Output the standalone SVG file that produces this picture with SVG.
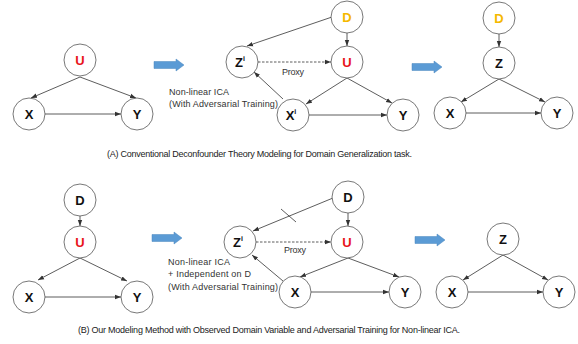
<svg xmlns="http://www.w3.org/2000/svg" width="578" height="344" viewBox="0 0 578 344">
<style>
.node circle{fill:#fff;stroke:#555;stroke-width:0.8}
.lbl{font-family:"Liberation Sans",Arial,sans-serif;font-weight:bold;font-size:13px;text-anchor:middle;fill:#111}
.sup{font-size:7px}
.red{fill:#e8141b}
.org{fill:#f5b800}
.edge{stroke:#333;stroke-width:0.8;fill:none;marker-end:url(#ah)}
.dash{stroke-dasharray:2.5,1.5}
.txt{font-family:"Liberation Sans",Arial,sans-serif;font-size:9px;fill:#333}
.cap{font-family:"Liberation Sans",Arial,sans-serif;font-size:9px;fill:#222}
.big{fill:#5b9bd5;stroke:#4a86bf;stroke-width:0.5}
</style>
<defs>
<marker id="ah" markerUnits="userSpaceOnUse" markerWidth="6" markerHeight="6" viewBox="0 0 6 6" refX="6" refY="3" orient="auto">
<path d="M0,0.8 L6,3 L0,5.2 z" fill="#333"/>
</marker>
</defs>
<rect width="578" height="344" fill="#fff"/>

<g id="connectors">
<!-- panel 1 -->
<line class="edge" x1="80" y1="77" x2="31" y2="98"/>
<line class="edge" x1="80" y1="77" x2="136" y2="98"/>
<line class="edge" x1="45" y1="114" x2="121" y2="114"/>
<!-- panel 2 -->
<line class="edge" x1="332" y1="17" x2="247" y2="46"/>
<line class="edge" x1="347" y1="33" x2="347" y2="46"/>
<line class="edge dash" x1="258" y1="62" x2="331" y2="62"/>
<line class="edge" x1="283" y1="99" x2="254" y2="72"/>
<line class="edge" x1="347" y1="78" x2="306" y2="104"/>
<line class="edge" x1="347" y1="78" x2="392" y2="103"/>
<line class="edge" x1="309" y1="115" x2="387" y2="115"/>
<!-- panel 3 -->
<line class="edge" x1="499" y1="34" x2="499" y2="47"/>
<line class="edge" x1="499" y1="79" x2="461" y2="102"/>
<line class="edge" x1="499" y1="79" x2="545" y2="102"/>
<line class="edge" x1="466" y1="113" x2="541" y2="113"/>
<!-- panel 4 -->
<line class="edge" x1="80" y1="216" x2="80" y2="226"/>
<line class="edge" x1="80" y1="258" x2="38" y2="280"/>
<line class="edge" x1="80" y1="258" x2="127" y2="281"/>
<line class="edge" x1="45" y1="297" x2="121" y2="297"/>
<!-- panel 5 -->
<line class="edge" x1="333" y1="198" x2="253" y2="231"/>
<line x1="281" y1="209" x2="296" y2="222" stroke="#333" stroke-width="0.8"/>
<line class="edge" x1="348" y1="213" x2="348" y2="226"/>
<line class="edge dash" x1="256" y1="242" x2="331" y2="242"/>
<line class="edge" x1="283" y1="281" x2="252" y2="255"/>
<line class="edge" x1="348" y1="258" x2="300" y2="277"/>
<line class="edge" x1="348" y1="258" x2="399" y2="277"/>
<line class="edge" x1="311" y1="292" x2="389" y2="292"/>
<!-- panel 6 -->
<line class="edge" x1="503" y1="255" x2="463" y2="280"/>
<line class="edge" x1="503" y1="255" x2="548" y2="280"/>
<line class="edge" x1="468" y1="292" x2="543" y2="292"/>
</g>

<g id="big-arrows">
<path class="big" d="M154,61.5 H176 V59 L184,65 L176,71 V68.5 H154 z"/>
<path class="big" d="M412,63.5 H434 V61 L442,67 L434,73 V70.5 H412 z"/>
<path class="big" d="M152,234.5 H174 V232 L182,238 L174,244 V241.5 H152 z"/>
<path class="big" d="M415,236.5 H437 V234 L445,240 L437,246 V243.5 H415 z"/>
</g>

<!-- panel 1 nodes -->
<g id="a1-U" class="node"><circle cx="80" cy="60" r="16"/><text class="lbl red" x="80" y="64.5">U</text></g>
<g id="a1-X" class="node"><circle cx="29" cy="114" r="16"/><text class="lbl" x="29" y="118.5">X</text></g>
<g id="a1-Y" class="node"><circle cx="137" cy="114" r="16"/><text class="lbl" x="137" y="118.5">Y</text></g>

<!-- panel 2 nodes -->
<g id="a2-D" class="node"><circle cx="347" cy="17" r="16"/><text class="lbl org" x="347" y="21.5">D</text></g>
<g id="a2-Z" class="node"><circle cx="242" cy="62" r="16"/><text class="lbl" x="240" y="66.5">Z<tspan class="sup" dy="-6">i</tspan></text></g>
<g id="a2-U" class="node"><circle cx="347" cy="62" r="16"/><text class="lbl red" x="347" y="66.5">U</text></g>
<g id="a2-X" class="node"><circle cx="293" cy="115" r="16"/><text class="lbl" x="291" y="119.5">X<tspan class="sup" dy="-6">i</tspan></text></g>
<g id="a2-Y" class="node"><circle cx="403" cy="115" r="16"/><text class="lbl" x="403" y="119.5">Y</text></g>

<!-- panel 3 nodes -->
<g id="a3-D" class="node"><circle cx="499" cy="18" r="16"/><text class="lbl org" x="499" y="22.5">D</text></g>
<g id="a3-Z" class="node"><circle cx="499" cy="63" r="16"/><text class="lbl" x="499" y="67.5">Z</text></g>
<g id="a3-X" class="node"><circle cx="450" cy="113" r="16"/><text class="lbl" x="450" y="117.5">X</text></g>
<g id="a3-Y" class="node"><circle cx="557" cy="113" r="16"/><text class="lbl" x="557" y="117.5">Y</text></g>

<!-- panel 4 nodes -->
<g id="b1-D" class="node"><circle cx="80" cy="200" r="16"/><text class="lbl" x="80" y="204.5">D</text></g>
<g id="b1-U" class="node"><circle cx="80" cy="242" r="16"/><text class="lbl red" x="80" y="246.5">U</text></g>
<g id="b1-X" class="node"><circle cx="29" cy="297" r="16"/><text class="lbl" x="29" y="301.5">X</text></g>
<g id="b1-Y" class="node"><circle cx="137" cy="297" r="16"/><text class="lbl" x="137" y="301.5">Y</text></g>

<!-- panel 5 nodes -->
<g id="b2-D" class="node"><circle cx="348" cy="197" r="16"/><text class="lbl" x="348" y="201.5">D</text></g>
<g id="b2-Z" class="node"><circle cx="240" cy="242" r="16"/><text class="lbl" x="238" y="246.5">Z<tspan class="sup" dy="-6">i</tspan></text></g>
<g id="b2-U" class="node"><circle cx="347" cy="242" r="16"/><text class="lbl red" x="347" y="246.5">U</text></g>
<g id="b2-X" class="node"><circle cx="295" cy="292" r="16"/><text class="lbl" x="295" y="296.5">X</text></g>
<g id="b2-Y" class="node"><circle cx="405" cy="292" r="16"/><text class="lbl" x="405" y="296.5">Y</text></g>

<!-- panel 6 nodes -->
<g id="b3-Z" class="node"><circle cx="503" cy="239" r="16"/><text class="lbl" x="503" y="243.5">Z</text></g>
<g id="b3-X" class="node"><circle cx="452" cy="292" r="16"/><text class="lbl" x="452" y="296.5">X</text></g>
<g id="b3-Y" class="node"><circle cx="559" cy="292" r="16"/><text class="lbl" x="559" y="296.5">Y</text></g>

<g id="labels">
<text class="txt" x="282" y="75" textLength="22">Proxy</text>
<text class="txt" x="169" y="95" textLength="60">Non-linear ICA</text>
<text class="txt" x="169" y="107" textLength="109">(With Adversarial Training)</text>
<text class="txt" x="284" y="253" textLength="22">Proxy</text>
<text class="txt" x="168" y="265" textLength="62">Non-linear ICA</text>
<text class="txt" x="168" y="277" textLength="83">+ Independent on D</text>
<text class="txt" x="168" y="289.5" textLength="110">(With Adversarial Training)</text>
<text class="cap" x="107" y="157" textLength="305">(A) Conventional Deconfounder Theory Modeling for Domain Generalization task.</text>
<text class="cap" x="78" y="333" textLength="382">(B) Our Modeling Method with Observed Domain Variable and Adversarial Training for Non-linear ICA.</text>
</g>
</svg>
